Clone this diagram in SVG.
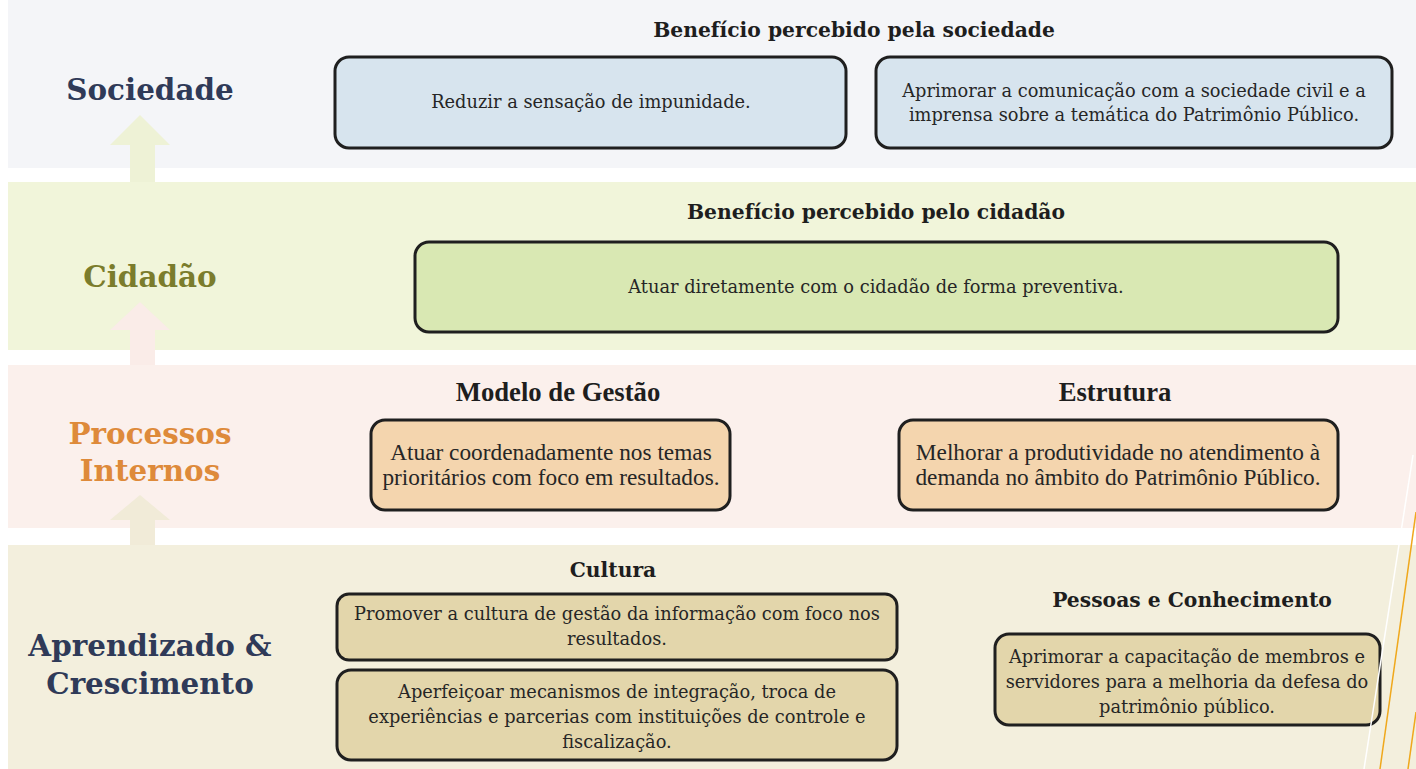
<svg xmlns="http://www.w3.org/2000/svg" width="1416" height="769" viewBox="0 0 1416 769">
<style>
.lbl{font-family:"DejaVu Serif","Liberation Serif",serif;font-weight:bold;font-size:29.4px;text-anchor:middle}
.hd{font-family:"DejaVu Serif","Liberation Serif",serif;font-weight:bold;font-size:20.3px;fill:#1e1e1e;text-anchor:middle}
.hdc{font-family:"Liberation Serif",serif;font-weight:bold;font-size:26.7px;fill:#1e1e1e;text-anchor:middle}
.tx{font-family:"DejaVu Serif","Liberation Serif",serif;font-size:17.8px;fill:#262626;text-anchor:middle}
.txc{font-family:"Liberation Serif",serif;font-size:23.3px;fill:#262626;text-anchor:middle}
.box{stroke:#1f1f1f;stroke-width:3}
.blue{fill:#d7e4ee}.green{fill:#d9e8b3}.peach{fill:#f4d5ae}.tan{fill:#e3d6ab}
</style>
<rect width="1416" height="769" fill="#ffffff"/>
<g id="bands">
<rect x="8" y="0" width="1408" height="168" fill="#f4f5f8"/>
<rect x="8" y="182" width="1408" height="168" fill="#f1f5da"/>
<rect x="8" y="365" width="1408" height="163" fill="#fbf0ec"/>
<rect x="8" y="545" width="1408" height="224" fill="#f3efdd"/>
</g>
<g id="connectors">
<path d="M130,182 V145 H110 L140,115 L170,145 H155 V182 Z" fill="#eef2d6"/>
<path d="M130,365 V330 H110 L140,302 L170,330 H155 V365 Z" fill="#faece8"/>
<path d="M130,545 V520 H110 L140,495 L170,520 H155 V545 Z" fill="#f1ebd8"/>
</g>
<g id="label-sociedade"><text class="lbl" x="150" y="100" fill="#2f3a58">Sociedade</text></g>
<g id="label-cidadao"><text class="lbl" x="150" y="287" fill="#7b7c2c">Cidadão</text></g>
<g id="label-processos"><text class="lbl" x="150" y="444" fill="#de8a3a">Processos</text><text class="lbl" x="150" y="481" fill="#de8a3a">Internos</text></g>
<g id="label-aprendizado"><text class="lbl" x="150" y="656" fill="#2f3a58">Aprendizado &amp;</text><text class="lbl" x="150" y="694" fill="#2f3a58">Crescimento</text></g>

<g id="head-sociedade"><text class="hd" x="854" y="37">Benefício percebido pela sociedade</text></g>
<g id="node-reduzir"><rect class="box blue" x="335" y="57" width="511" height="91" rx="14"/><text class="tx" x="591" y="108">Reduzir a sensação de impunidade.</text></g>
<g id="node-aprimorar-com"><rect class="box blue" x="876" y="57" width="516" height="91" rx="14"/><text class="tx" x="1134" y="97">Aprimorar a comunicação com a sociedade civil e a</text><text class="tx" x="1134" y="121">imprensa sobre a temática do Patrimônio Público.</text></g>

<g id="head-cidadao"><text class="hd" x="876" y="219">Benefício percebido pelo cidadão</text></g>
<g id="node-atuar-cidadao"><rect class="box green" x="415" y="242" width="923" height="90" rx="14"/><text class="tx" x="876" y="293">Atuar diretamente com o cidadão de forma preventiva.</text></g>

<g id="head-modelo"><text class="hdc" x="558" y="401">Modelo de Gestão</text></g>
<g id="node-atuar-coord"><rect class="box peach" x="371" y="420" width="359" height="90" rx="14"/><text class="txc" x="551" y="460">Atuar coordenadamente nos temas</text><text class="txc" x="551" y="485">prioritários com foco em resultados.</text></g>
<g id="head-estrutura"><text class="hdc" x="1115" y="401">Estrutura</text></g>
<g id="node-melhorar"><rect class="box peach" x="899" y="420" width="439" height="90" rx="14"/><text class="txc" x="1118" y="460">Melhorar a produtividade no atendimento à</text><text class="txc" x="1118" y="485">demanda no âmbito do Patrimônio Público.</text></g>

<g id="head-cultura"><text class="hd" x="613" y="577">Cultura</text></g>
<g id="node-promover"><rect class="box tan" x="337" y="594" width="560" height="66" rx="12"/><text class="tx" x="617" y="620">Promover a cultura de gestão da informação com foco nos</text><text class="tx" x="617" y="645">resultados.</text></g>
<g id="node-aperfeicoar"><rect class="box tan" x="337" y="670" width="560" height="90" rx="14"/><text class="tx" x="617" y="698">Aperfeiçoar mecanismos de integração, troca de</text><text class="tx" x="617" y="723">experiências e parcerias com instituições de controle e</text><text class="tx" x="617" y="748">fiscalização.</text></g>
<g id="head-pessoas"><text class="hd" x="1192" y="607">Pessoas e Conhecimento</text></g>
<g id="node-capacitacao"><rect class="box tan" x="995" y="634" width="385" height="91" rx="14"/><text class="tx" x="1187" y="663">Aprimorar a capacitação de membros e</text><text class="tx" x="1187" y="688">servidores para a melhoria da defesa do</text><text class="tx" x="1187" y="713">patrimônio público.</text></g>

<g id="decoration">
<line x1="1413" y1="455" x2="1364" y2="769" stroke="#ffffff" stroke-width="1.5"/>
<line x1="1416" y1="512" x2="1380" y2="769" stroke="#f0a81c" stroke-width="1.5"/>
<line x1="1416" y1="712" x2="1408" y2="769" stroke="#f0a81c" stroke-width="1.5"/>
</g>
</svg>
